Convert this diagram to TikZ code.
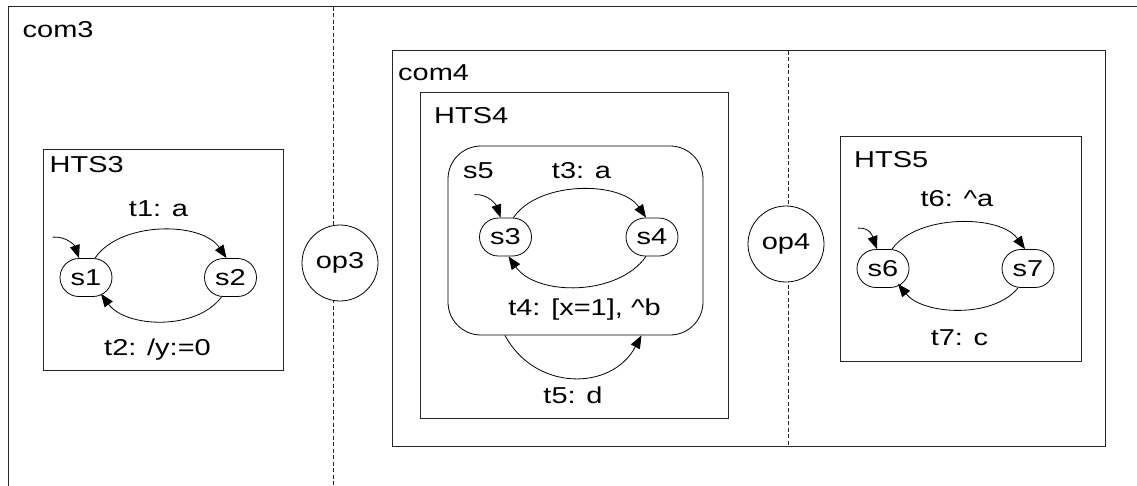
\documentclass[tikz,border=0pt]{standalone}
\usepackage{fontspec}
\usepackage{graphicx}
\setmainfont{Liberation Sans}
\usetikzlibrary{arrows.meta,calc}
% labels are set in a horizontally widened sans face
\newcommand{\wtxt}[1]{\scalebox{1.26}[1]{#1}}

\begin{document}
\begin{tikzpicture}[x=1pt,y=-1pt,
  font=\fontsize{23}{27}\selectfont,
  frame/.style={draw=black!85, line width=1.1pt},
  divider/.style={draw=black!85, line width=0.9pt, dash pattern=on 4pt off 2.5pt},
  state/.style={draw, line width=0.8pt, rounded corners=19pt, minimum width=52pt,
                minimum height=38pt, inner sep=0pt},
  superstate/.style={draw, line width=0.8pt, rounded corners=33pt, inner sep=0pt},
  op/.style={draw, circle, minimum size=76pt, inner sep=0pt, fill=white, line width=0.8pt},
  trans/.style={draw, line width=0.8pt, -{Triangle[length=13pt,width=10pt]}},
  lbl/.style={anchor=base west, inner sep=0pt},
  elbl/.style={anchor=base, inner sep=0pt}]

\useasboundingbox (0,0) rectangle (1137,485);
\clip (0,0) rectangle (1137,485);

% outer composition com3 (runs off the page to the right and bottom)
\draw[frame] (8.5,6.5) rectangle (1150,500);
\node[lbl] (com3) at (22.5,37.5) {\wtxt{com3}};
\coordinate (d3top) at (333.5,6.5);
\coordinate (d3bot) at (333.5,490);
\draw[divider] (d3top) -- (d3bot);
\node[op] (op3) at (340,263) {\wtxt{op3}};

% HTS3
\draw[frame] (43.5,149.5) rectangle (283.5,370.5);
\node[lbl] (hts3) at (49.5,172) {\wtxt{HTS3}};
\node[state] (s1) at (86,277.5) {\wtxt{s1}};
\node[state] (s2) at (230.5,277.5) {\wtxt{s2}};
\coordinate (i1) at ($(s1.north)+(-33,-21)$);
\draw[trans] (i1) .. controls +(14,-1) and +(-4,-12) .. ($(s1.north)+(-7,0)$);
\draw[trans] ($(s1.north)+(9,0)$) .. controls +(25,-37) and +(-25,-37) .. ($(s2.north)+(-4,0)$);
\draw[trans] ($(s2.south)+(-9,0)$) .. controls +(-25,34) and +(25,34) .. ($(s1.south)+(15,-3)$);
\node[elbl] (t1) at (158.5,216.5) {\wtxt{t1: a}};
\node[elbl] (t2) at (157.5,355) {\wtxt{t2: /y:=0}};

% composition com4
\draw[frame] (392.5,50.5) rectangle (1105.5,446.5);
\node[lbl] (com4) at (398,80.5) {\wtxt{com4}};
\coordinate (d4top) at (788,50.5);
\coordinate (d4bot) at (788,446.5);
\draw[divider] (d4top) -- (d4bot);
\node[op] (op4) at (786,244) {\wtxt{op4}};

% HTS4 with superstate s5
\draw[frame] (420.5,92.5) rectangle (728.5,418.5);
\node[lbl] (hts4) at (434,123) {\wtxt{HTS4}};
\node[superstate, minimum width=255pt, minimum height=189pt] (s5) at (575.5,240.5) {};
\node[lbl] (s5lbl) at (463,178) {\wtxt{s5}};
\node[state] (s3) at (505.5,237) {\wtxt{s3}};
\node[state] (s4) at (652,237) {\wtxt{s4}};
\coordinate (i3) at ($(s3.north)+(-31,-23)$);
\draw[trans] (i3) .. controls +(14,-1) and +(-4,-12) .. ($(s3.north)+(-5,0)$);
\draw[trans] ($(s3.north)+(8,0)$) .. controls +(25,-37) and +(-25,-37) .. ($(s4.north)+(-6,0)$);
\draw[trans] ($(s4.south)+(-6,0)$) .. controls +(-28,40) and +(28,40) .. ($(s3.south)+(3,0)$);
\draw[trans] ($(s5.south)+(-70.5,0)$) .. controls +(30,56) and +(-30,56) .. ($(s5.south)+(66,0)$);
\node[elbl] (t3) at (581.5,178.3) {\wtxt{t3: a}};
\node[elbl] (t4) at (584.5,315) {\wtxt{t4: [x=1], \textasciicircum b}};
\node[elbl] (t5) at (573,403) {\wtxt{t5: d}};

% HTS5
\draw[frame] (840.5,136.5) rectangle (1081.5,361.5);
\node[lbl] (hts5) at (854,167.3) {\wtxt{HTS5}};
\node[state] (s6) at (883,268.5) {\wtxt{s6}};
\node[state] (s7) at (1028,268.5) {\wtxt{s7}};
\coordinate (i6) at ($(s6.north)+(-25,-21)$);
\draw[trans] (i6) .. controls +(13,-1) and +(-4,-11) .. ($(s6.north)+(-6,0)$);
\draw[trans] ($(s6.north)+(9,0)$) .. controls +(25,-35) and +(-25,-35) .. ($(s7.north)+(-3,0)$);
\draw[trans] ($(s7.south)+(-10,0)$) .. controls +(-25,31) and +(25,31) .. ($(s6.south)+(15,-4)$);
\node[elbl] (t6) at (957,206.7) {\wtxt{t6: \textasciicircum a}};
\node[elbl] (t7) at (959.5,345) {\wtxt{t7: c}};
\end{tikzpicture}
\end{document}
